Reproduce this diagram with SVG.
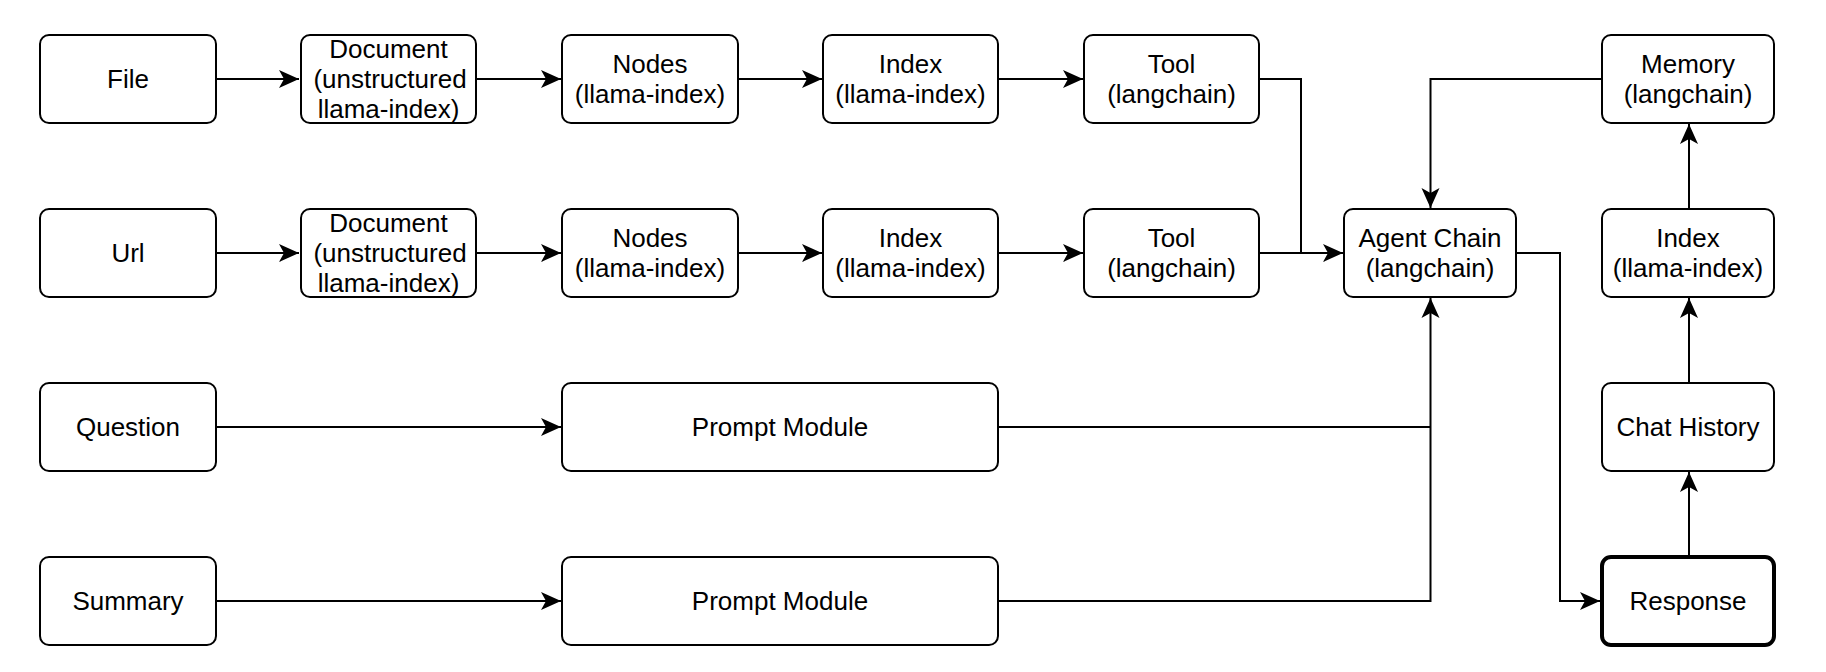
<svg xmlns="http://www.w3.org/2000/svg" width="1826" height="672" viewBox="0 0 1826 672">
<style>
.b{fill:#fff;stroke:#000;stroke-width:2}
.r{fill:#fff;stroke:#000;stroke-width:4}
text{font-family:"Liberation Sans",Arial,Helvetica,sans-serif;font-size:26px;fill:#000;text-anchor:middle}
.c path{fill:none;stroke:#000;stroke-width:2}
</style>
<defs>
<marker id="a" markerUnits="userSpaceOnUse" markerWidth="24" markerHeight="24" viewBox="0 0 24 24" refX="22" refY="12" orient="auto">
<path d="M22,12 L2,3 L7,12 L2,21 Z" fill="#000"/>
</marker>
</defs>
<rect width="1826" height="672" fill="#fff"/>
<g class="c" id="connectors">
<path d="M216,79 H299" marker-end="url(#a)"/>
<path d="M476,79 H561" marker-end="url(#a)"/>
<path d="M738,79 H822" marker-end="url(#a)"/>
<path d="M998,79 H1083" marker-end="url(#a)"/>
<path d="M216,253 H299" marker-end="url(#a)"/>
<path d="M476,253 H561" marker-end="url(#a)"/>
<path d="M738,253 H822" marker-end="url(#a)"/>
<path d="M998,253 H1083" marker-end="url(#a)"/>
<path d="M1259,79 H1301 V253"/>
<path d="M1259,253 H1343" marker-end="url(#a)"/>
<path d="M1602,79 H1430.5 V208" marker-end="url(#a)"/>
<path d="M216,427 H561" marker-end="url(#a)"/>
<path d="M216,601 H561" marker-end="url(#a)"/>
<path d="M998,427 H1430.5"/>
<path d="M998,601 H1430.5 V298" marker-end="url(#a)"/>
<path d="M1516,253 H1560 V601 H1600" marker-end="url(#a)"/>
<path d="M1689,555 V472" marker-end="url(#a)"/>
<path d="M1689,383 V298" marker-end="url(#a)"/>
<path d="M1689,209 V124" marker-end="url(#a)"/>
</g>
<g id="file"><rect class="b" x="40" y="35" width="176" height="88" rx="9"/><text x="128" y="88">File</text></g>
<g id="doc1"><rect class="b" x="301" y="35" width="175" height="88" rx="9"/><text x="388.5" y="58">Document</text><text x="390" y="88">(unstructured</text><text x="388.5" y="118">llama-index)</text></g>
<g id="nodes1"><rect class="b" x="562" y="35" width="176" height="88" rx="9"/><text x="650" y="73">Nodes</text><text x="650" y="103">(llama-index)</text></g>
<g id="index1"><rect class="b" x="823" y="35" width="175" height="88" rx="9"/><text x="910.5" y="73">Index</text><text x="910.5" y="103">(llama-index)</text></g>
<g id="tool1"><rect class="b" x="1084" y="35" width="175" height="88" rx="9"/><text x="1171.5" y="73">Tool</text><text x="1171.5" y="103">(langchain)</text></g>
<g id="memory"><rect class="b" x="1602" y="35" width="172" height="88" rx="9"/><text x="1688" y="73">Memory</text><text x="1688" y="103">(langchain)</text></g>
<g id="url"><rect class="b" x="40" y="209" width="176" height="88" rx="9"/><text x="128" y="262">Url</text></g>
<g id="doc2"><rect class="b" x="301" y="209" width="175" height="88" rx="9"/><text x="388.5" y="232">Document</text><text x="390" y="262">(unstructured</text><text x="388.5" y="292">llama-index)</text></g>
<g id="nodes2"><rect class="b" x="562" y="209" width="176" height="88" rx="9"/><text x="650" y="247">Nodes</text><text x="650" y="277">(llama-index)</text></g>
<g id="index2"><rect class="b" x="823" y="209" width="175" height="88" rx="9"/><text x="910.5" y="247">Index</text><text x="910.5" y="277">(llama-index)</text></g>
<g id="tool2"><rect class="b" x="1084" y="209" width="175" height="88" rx="9"/><text x="1171.5" y="247">Tool</text><text x="1171.5" y="277">(langchain)</text></g>
<g id="agent"><rect class="b" x="1344" y="209" width="172" height="88" rx="9"/><text x="1430" y="247">Agent Chain</text><text x="1430" y="277">(langchain)</text></g>
<g id="index3"><rect class="b" x="1602" y="209" width="172" height="88" rx="9"/><text x="1688" y="247">Index</text><text x="1688" y="277">(llama-index)</text></g>
<g id="question"><rect class="b" x="40" y="383" width="176" height="88" rx="9"/><text x="128" y="436">Question</text></g>
<g id="prompt1"><rect class="b" x="562" y="383" width="436" height="88" rx="9"/><text x="780" y="436">Prompt Module</text></g>
<g id="chathistory"><rect class="b" x="1602" y="383" width="172" height="88" rx="9"/><text x="1688" y="436">Chat History</text></g>
<g id="summary"><rect class="b" x="40" y="557" width="176" height="88" rx="9"/><text x="128" y="610">Summary</text></g>
<g id="prompt2"><rect class="b" x="562" y="557" width="436" height="88" rx="9"/><text x="780" y="610">Prompt Module</text></g>
<g id="response"><rect class="r" x="1602" y="557" width="172" height="88" rx="9"/><text x="1688" y="610">Response</text></g>
</svg>
